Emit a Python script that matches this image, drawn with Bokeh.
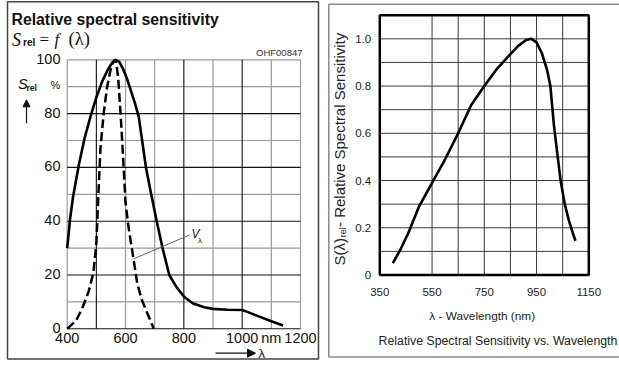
import numpy as np
from bokeh.plotting import figure
from bokeh.models import Arrow, NormalHead, Range1d
from bokeh.layouts import row
from bokeh.embed import file_html
from bokeh.resources import INLINE
from bokeh.core.properties import value

# ---------------- data: left chart (S_rel and V_lambda, %) ----------------
srel_nm = [400, 410, 420, 440, 460, 480, 500, 520, 540, 555, 565, 578, 592, 605, 617, 632, 645, 657,
           670, 688, 707, 727, 750, 775, 800, 830, 870, 900, 950, 1000, 1020, 1050, 1100, 1140]
srel_pct = [30, 41, 49, 61, 71, 79, 86, 92, 96.5, 99, 100, 99.3, 96.5, 93, 89, 84, 79, 70,
            60, 50, 40, 30, 20, 15.5, 12, 9.5, 8, 7.4, 7.1, 7, 6.2, 4.9, 2.8, 1.2]
vlam_nm = [400, 430, 451, 474, 490, 500, 505, 514, 525, 537, 550, 560, 567, 575, 583, 590, 600,
           610, 623, 640, 655, 674, 697]
vlam_pct = [0, 3, 7.4, 14, 21, 32, 45, 67, 80, 90, 97, 99.5, 100, 93, 80, 67, 47,
            38, 29, 17, 11, 6, 0]
left_xlim = [400, 1200]
left_ylim = [0, 100]
left_xticks = [400, 600, 800, 1000, 1100, 1200]
left_xlabels = ["400", "600", "800", "1000", "nm", "1200"]
left_yticks = [0, 20, 40, 60, 80, 100]
left_ylabels = ["0", "20", "40", "60", "80", "100"]
left_grid_dark_x = [500, 800, 1000]
left_grid_light_x = [400, 600, 700, 900, 1100, 1200]
left_grid_dark_y = [0, 20, 40, 60, 80]
left_grid_light_y = [10, 30, 50, 70, 90, 100]

# ---------------- data: right chart (relative sensitivity) ----------------
right_nm = [400, 430, 460, 500, 550, 600, 650, 700, 750, 800, 850, 880, 910, 930, 950, 970, 990,
            1003, 1016, 1030, 1042, 1058, 1074, 1088, 1099]
right_val = [0.05, 0.11, 0.18, 0.29, 0.39, 0.49, 0.60, 0.72, 0.80, 0.875, 0.935, 0.97, 0.995, 1.0,
             0.985, 0.94, 0.87, 0.80, 0.64, 0.51, 0.40, 0.30, 0.23, 0.18, 0.145]
right_xlim = [350, 1150]
right_ylim = [0, 1.1]
right_xticks = [350, 550, 750, 950, 1150]
right_xlabels = ["350", "550", "750", "950", "1150"]
right_yticks = [0, 0.2, 0.4, 0.6, 0.8, 1.0]
right_ylabels = ["0", "0.2", "0.4", "0.6", "0.8", "1.0"]
right_grid_x = [550, 650, 750, 850, 950, 1050]
right_grid_y = [0.1, 0.2, 0.3, 0.4, 0.5, 0.6, 0.7, 0.8, 0.9, 1.0]

# ---------------- layout geometry (canvas pixels) ----------------
H = 365
W1, W2 = 320, 299
SANS = "Liberation Sans"
SERIF = "Liberation Serif"
INK = "#111111"


def make_fig(W, xlim, ylim, px_x0, px_x1, px_y0, px_y1):
    """Figure whose frame fills the canvas; the data limits land on the given pixels."""
    sx = (px_x1 - px_x0) / (xlim[1] - xlim[0])
    sy = (px_y0 - px_y1) / (ylim[1] - ylim[0])
    xs = xlim[0] - px_x0 / sx
    ye = ylim[1] + px_y1 / sy
    p = figure(width=W, height=H, x_range=Range1d(xs, xs + W / sx), y_range=Range1d(ye - H / sy, ye),
               output_backend="svg", toolbar_location=None,
               x_axis_location=None, y_axis_location=None, min_border=0)
    p.grid.visible = False
    p.outline_line_color = None
    p.background_fill_color = "white"
    p.border_fill_color = "white"
    return p, (lambda px: xs + px / sx), (lambda py: ye - py / sy)


def txt(p, fx, fy, X, Y, s, font=SANS, size="14px", style="normal", align="left",
        baseline="middle", color=INK, angle=0.0):
    p.text(x=[fx(X)], y=[fy(Y)], text=[s], text_font=value(font), text_font_size=size,
           text_font_style=style, text_align=align, text_baseline=baseline, text_color=color,
           angle=angle)


def vlines(p, xs, ylim, **kw):
    p.segment(x0=xs, y0=[ylim[0]] * len(xs), x1=xs, y1=[ylim[1]] * len(xs), **kw)


def hlines(p, ys, xlim, **kw):
    p.segment(x0=[xlim[0]] * len(ys), y0=ys, x1=[xlim[1]] * len(ys), y1=ys, **kw)


# ======================= left panel =======================
p1, fx1, fy1 = make_fig(W1, left_xlim, left_ylim, 66.7, 300.0, 328.3, 59.3)

vlines(p1, left_grid_light_x, left_ylim, line_color="#9a9a9a", line_width=1.2)
hlines(p1, left_grid_light_y, left_xlim, line_color="#9a9a9a", line_width=1.2)
vlines(p1, left_grid_dark_x, left_ylim, line_color="#111111", line_width=1.1)
hlines(p1, left_grid_dark_y, left_xlim, line_color="#111111", line_width=1.1)

p1.line(vlam_nm, vlam_pct, line_color="black", line_width=2.5, line_dash="9 4")
p1.line(srel_nm, srel_pct, line_color="black", line_width=2.6)

# tick labels
p1.text(x=left_xticks, y=[fy1(337)] * len(left_xticks), text=left_xlabels, text_font=value(SANS),
        text_font_size="14.5px", text_align="center", text_baseline="middle", text_color=INK)
p1.text(x=[fx1(60)] * len(left_yticks), y=left_yticks, text=left_ylabels, text_font=value(SANS),
        text_font_size="14.5px", text_align="right", text_baseline="middle", text_color=INK,
        y_offset=-1)

# titles and annotations
txt(p1, fx1, fy1, 11, 18.5, "Relative spectral sensitivity", size="15.8px", style="bold",
    baseline="alphabetic")
txt(p1, fx1, fy1, 11.5, 39, "S", font=SERIF, size="18px", style="italic", baseline="alphabetic")
txt(p1, fx1, fy1, 22.5, 42, "rel", size="10px", style="bold", baseline="alphabetic")
txt(p1, fx1, fy1, 39, 38.5, "=", font=SERIF, size="17px", baseline="alphabetic")
txt(p1, fx1, fy1, 54, 38.5, "f", font=SERIF, size="17px", style="italic", baseline="alphabetic")
txt(p1, fx1, fy1, 68, 38.5, "(λ)", font=SERIF, size="18.5px", baseline="alphabetic")
txt(p1, fx1, fy1, 302, 52, "OHF00847", size="9.5px", align="right", color="#333333")
txt(p1, fx1, fy1, 17.5, 83, "S", size="14.5px", style="italic")
txt(p1, fx1, fy1, 26, 87, "rel", size="8.5px", style="bold")
txt(p1, fx1, fy1, 50, 84, "%", size="11px")
txt(p1, fx1, fy1, 191, 233.7, "V", size="12px", style="italic")
txt(p1, fx1, fy1, 197.5, 239.5, "λ", size="8px")
txt(p1, fx1, fy1, 258, 353, "λ", size="13px")

# V_lambda leader line and axis arrows
p1.add_layout(Arrow(x_start=fx1(133.3), y_start=fy1(258.3), x_end=fx1(189), y_end=fy1(234.5),
                    end=None, line_color="#666666", line_width=1))
p1.add_layout(Arrow(x_start=fx1(26), y_start=fy1(122.7), x_end=fx1(26), y_end=fy1(99.3),
                    line_color=INK, line_width=1.2,
                    end=NormalHead(size=7, fill_color=INK, line_color=INK)))
p1.add_layout(Arrow(x_start=fx1(215), y_start=fy1(352.7), x_end=fx1(255), y_end=fy1(352.7),
                    line_color=INK, line_width=1.2,
                    end=NormalHead(size=8, fill_color=INK, line_color=INK)))
# panel border
p1.quad(left=[fx1(7)], right=[fx1(318)], top=[fy1(1.2)], bottom=[fy1(358.5)],
        fill_color=None, line_color="#444444", line_width=1.5)

# ======================= right panel =======================
p2, fx2, fy2 = make_fig(W2, right_xlim, right_ylim, 59.3, 268.3, 274.5, 14.7)

vlines(p2, right_grid_x, right_ylim, line_color="#3a3a3a", line_width=1)
hlines(p2, right_grid_y, right_xlim, line_color="#3a3a3a", line_width=1)
p2.quad(left=[right_xlim[0]], right=[right_xlim[1]], top=[right_ylim[1]], bottom=[right_ylim[0]],
        fill_color=None, line_color="black", line_width=2.5)
p2.line(right_nm, right_val, line_color="black", line_width=2.6)

p2.text(x=right_xticks, y=[fy2(291.7)] * len(right_xticks), text=right_xlabels,
        text_font=value(SANS), text_font_size="11.5px", text_align="center",
        text_baseline="middle", text_color="#222222")
p2.text(x=[fx2(50.7)] * len(right_yticks), y=right_yticks, text=right_ylabels,
        text_font=value(SANS), text_font_size="11.5px", text_align="right",
        text_baseline="middle", text_color="#222222")

txt(p2, fx2, fy2, 161.7, 315, "λ - Wavelength (nm)", size="11.8px", align="center", color="#222222")
txt(p2, fx2, fy2, 177.5, 340, "Relative Spectral Sensitivity vs. Wavelength", size="12.3px",
    align="center", color="#222222")
txt(p2, fx2, fy2, 18.5, 265, "S(λ)", size="15px", angle=np.pi / 2, color="#222222")
txt(p2, fx2, fy2, 22, 236.8, "rel", size="9px", angle=np.pi / 2, color="#222222")
txt(p2, fx2, fy2, 18.5, 226.5, " - Relative Spectral Sensitivity", size="15px", angle=np.pi / 2,
    color="#222222")

# panel border (right edge lies beyond the window)
p2.quad(left=[fx2(8.3)], right=[fx2(310)], top=[fy2(3.7)], bottom=[fy2(356.5)],
        fill_color=None, line_color="#8a8a8a", line_width=1.5)

layout = row([p1, p2], spacing=0)
open("out.html", "w").write(file_html(layout, INLINE))
